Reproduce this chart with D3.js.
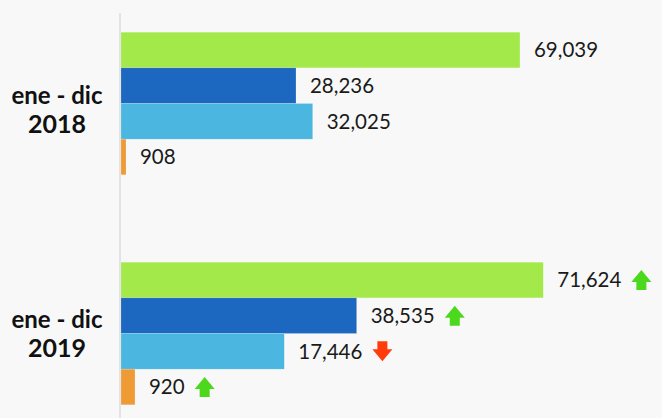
<!DOCTYPE html>
<html>
<head>
<meta charset="utf-8">
<script src="https://cdn.jsdelivr.net/npm/d3@7"></script>
<style>
  html, body { margin: 0; padding: 0; background: #f8f8f8; }
  svg { display: block; font-family: Lato, "Open Sans", sans-serif; }
</style>
</head>
<body>
<svg id="chart" width="662" height="418"></svg>
<script>
const periods = ["2018", "2019"];
const periodText = "ene - dic";
const series = ["verde", "azul", "celeste", "naranja"];
const colors = ["#a4e94a", "#1c67bf", "#4bb7e0", "#ee9a35"];

// values printed next to each bar
const values2018 = [69039, 28236, 32025, 908];
const values2019 = [71624, 38535, 17446, 920];

// bar lengths as drawn in the picture (they do not follow the printed values)
const bars2018 = [69039, 30280, 33170, 865];
const bars2019 = [73070, 40780, 28255, 2420];

const rows = periods.map((p, i) => ({
  period: p,
  items: series.map((s, j) => ({
    key: s,
    color: colors[j],
    bar: (i === 0 ? bars2018 : bars2019)[j],
    value: (i === 0 ? values2018 : values2019)[j],
    prev: i === 0 ? null : values2018[j]
  }))
}));

const svg = d3.select("#chart");

const x = d3.scaleLinear().domain([0, 80000]).range([121, 583.3]);
const y = d3.scaleBand().domain(periods).range([-11.5, 448.5])
  .paddingInner(0.38).paddingOuter(0.19);
const y1 = d3.scaleBand().domain(series).range([0, y.bandwidth()]);
// baseline of the first line of each category label
const yLabel = d3.scalePoint().domain(periods).range([104, 328]);

const fmt = d3.format(",");

// axis line
svg.append("line")
  .attr("x1", 120).attr("x2", 120)
  .attr("y1", 13).attr("y2", 418)
  .attr("stroke", "#dcdcdc")
  .attr("stroke-width", 1.5);

// category labels
const cats = svg.selectAll("g.cat")
  .data(periods)
  .join("g")
  .attr("class", "cat")
  .attr("transform", d => `translate(57,${yLabel(d)})`)
  .attr("text-anchor", "middle")
  .attr("font-weight", "bold")
  .attr("fill", "#111");

cats.append("text")
  .attr("font-size", 24)
  .text(periodText);

cats.append("text")
  .attr("y", 28.5)
  .attr("font-size", 25)
  .text(d => d);

const groups = svg.selectAll("g.period")
  .data(rows)
  .join("g")
  .attr("class", "period")
  .attr("transform", d => `translate(0,${y(d.period)})`);

const items = groups.selectAll("g.item")
  .data(d => d.items)
  .join("g")
  .attr("class", "item")
  .attr("transform", d => `translate(0,${y1(d.key)})`);

items.append("rect")
  .attr("x", x(0))
  .attr("y", 0)
  .attr("width", d => x(d.bar) - x(0))
  .attr("height", y1.bandwidth())
  .attr("fill", d => d.color)
  .attr("stroke", "rgba(255,255,255,0.35)")
  .attr("stroke-width", 0.5);

const labels = items.append("text")
  .attr("x", d => x(d.bar) + 14)
  .attr("y", y1.bandwidth() / 2)
  .attr("dy", "0.36em")
  .attr("font-size", 20.5)
  .attr("fill", "#1a1a1a")
  .text(d => fmt(d.value));

// change arrows vs previous period
const arrowUp = "M10,0L20,12L15,12L15,20L5,20L5,12L0,12Z";
labels.each(function(d) {
  if (d.prev == null) return;
  const up = d.value > d.prev;
  const ax = x(d.bar) + 14 + this.getComputedTextLength() + 10;
  const ay = y1.bandwidth() / 2 - 10;
  d3.select(this.parentNode).append("path")
    .attr("d", arrowUp)
    .attr("fill", up ? "#4cd81c" : "#ff3c0a")
    .attr("transform", up
      ? `translate(${ax},${ay})`
      : `translate(${ax + 20},${ay + 20}) rotate(180)`);
});
</script>
</body>
</html>
